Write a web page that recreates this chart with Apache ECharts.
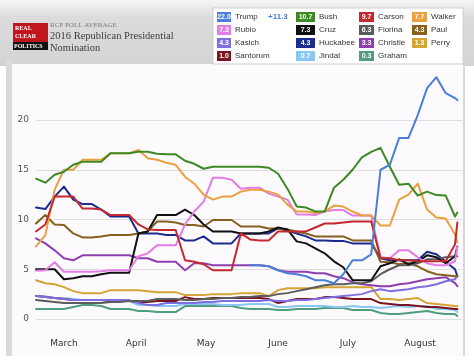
<!DOCTYPE html>
<html><head><meta charset="utf-8">
<script src="https://cdn.jsdelivr.net/npm/echarts/dist/echarts.min.js"></script>
<style>html,body{margin:0;padding:0;background:#fff}#c{width:474px;height:361px}</style>
</head><body><div id="c"></div>
<script>
// ---- data ----
var candidates = ['Trump','Bush','Carson','Walker','Rubio','Cruz','Fiorina','Paul','Kasich','Huckabee','Christie','Perry','Santorum','Jindal','Graham'];
var latest = ['22.0','10.7','9.7','7.7','7.3','7.3','6.3','4.3','4.3','4.3','3.3','1.3','1.0','0.7','0.3'];
var trumpLead = '+11.3';
var colors = ['#4a7ed8','#3d8a24','#c4292f','#eaa03e','#e37ce6','#111111','#5c5c5c','#86601e','#7d6fe2','#1c2c8e','#8e3fae','#d4a534','#7a1420','#8cc6f2','#4f9e80'];
var monthNames = ['March','April','May','June','July','August'];
var yTicks = [0,5,10,15,20];

// values sampled every 4 days from 2015-03-03, last value 2015-08-31
var trump    = [null,null,null,null,null,null,null,null,null,null,null,null,null,null,null,null,null,null,null,null,null,null,null,5.4,5.4,5.3,4.9,4.6,4.5,4.3,3.9,3.9,3.6,4.5,5.9,5.9,6.5,15.0,15.5,18.2,18.2,20.5,23.2,24.3,22.7,22.2,22.0];
var bush     = [14.1,13.7,14.5,14.8,15.5,15.8,15.8,15.8,16.65,16.65,16.65,16.8,16.8,16.6,16.55,16.55,15.9,15.6,15.1,15.3,15.3,15.3,15.3,15.3,15.3,15.2,14.6,13.1,11.3,11.2,10.8,10.8,13.2,14.0,15.0,16.25,16.8,17.2,15.3,13.5,13.6,12.4,12.8,12.45,12.4,10.3,10.7];
var carson   = [8.8,9.5,12.3,12.3,12.3,11.1,11.1,11.0,10.45,10.45,10.45,9.5,9.0,8.95,8.95,8.95,5.9,5.75,5.5,4.9,4.9,4.9,8.6,8.0,7.9,7.9,8.8,8.8,8.8,8.8,9.2,9.6,9.6,9.7,9.8,9.8,9.8,6.1,6.1,5.9,5.9,5.8,5.8,5.8,5.8,7.5,9.7];
var walker   = [7.3,8.4,13.0,15.0,15.0,16.0,16.0,16.0,16.65,16.65,16.65,17.0,16.15,16.0,15.7,15.5,14.3,13.6,12.5,12.0,12.3,12.3,12.8,13.0,13.0,12.8,12.5,11.5,10.8,10.8,10.65,10.8,11.4,11.3,10.8,10.4,10.4,9.4,9.4,12.0,12.5,13.6,11.0,10.2,10.1,8.5,7.7];
var rubio    = [4.85,4.9,5.7,4.75,4.75,4.75,4.75,4.8,4.9,4.9,4.9,6.3,6.6,7.4,7.4,7.4,9.5,10.8,11.8,14.2,14.2,14.0,13.1,13.2,13.2,12.6,12.3,12.0,10.5,10.5,10.45,10.8,10.95,10.95,10.4,10.4,10.4,6.2,6.1,6.9,6.9,6.2,5.6,5.4,5.4,5.8,7.3];
var cruz     = [5.0,5.0,5.0,4.0,4.1,4.3,4.3,4.5,4.65,4.65,4.65,8.6,8.8,10.45,10.45,10.45,11.0,10.45,9.5,8.8,8.8,8.8,8.6,8.6,8.6,8.8,9.2,9.0,7.8,7.6,7.1,6.6,5.8,5.2,3.9,3.9,3.9,5.3,5.6,6.0,5.5,5.8,6.4,6.2,5.6,6.3,7.3];
var fiorina  = [1.9,1.8,1.7,1.6,1.6,1.6,1.6,1.6,1.7,1.7,1.8,1.8,1.8,2.0,2.0,2.0,1.9,1.9,2.0,2.0,2.1,2.1,2.2,2.2,2.3,2.3,2.5,2.6,2.8,3.0,3.2,3.4,3.5,3.5,3.6,3.6,3.8,4.5,5.0,5.4,5.4,5.6,6.0,6.0,6.2,6.3,6.3];
var paul     = [9.6,10.45,9.5,9.45,8.6,8.2,8.2,8.3,8.45,8.45,8.45,8.6,8.8,9.8,9.8,9.7,9.45,9.45,9.3,9.95,9.95,9.95,9.3,9.3,9.3,9.1,9.1,9.0,8.8,8.6,8.3,8.3,8.3,8.3,7.9,7.9,7.9,5.75,5.7,5.5,5.6,5.3,4.8,4.5,4.4,4.3,4.3];
var kasich   = [2.3,2.2,2.1,2.0,1.9,1.9,1.9,1.9,1.9,1.9,1.9,1.6,1.4,1.4,1.6,1.6,1.6,1.6,1.7,1.7,1.8,1.8,1.8,1.8,1.8,1.9,1.8,1.8,1.9,1.9,2.0,2.1,2.2,2.3,2.4,2.5,2.8,3.0,2.8,2.9,3.0,3.2,3.3,3.5,3.8,4.0,4.3];
var huckabee = [11.2,11.05,12.3,13.3,12.0,11.55,11.55,11.0,10.3,10.3,10.3,8.6,8.6,8.6,8.45,8.45,7.9,7.9,8.3,7.6,7.6,7.6,8.6,8.6,8.6,8.6,9.1,8.9,8.6,8.3,7.9,7.9,7.85,7.85,7.6,7.6,7.6,6.1,5.9,5.9,5.9,5.9,6.75,6.5,5.75,5.0,4.3];
var christie = [8.1,7.6,6.9,6.1,5.9,6.4,6.4,6.4,6.4,6.4,6.4,6.1,6.1,5.75,5.75,5.75,4.9,5.6,5.6,5.4,5.4,5.4,5.4,5.4,5.4,5.3,4.9,4.75,4.75,4.75,4.6,4.6,4.3,4.1,3.7,3.5,3.4,3.3,3.3,3.5,3.6,3.8,4.0,4.1,4.2,3.6,3.3];
var perry    = [3.9,3.6,3.5,3.2,2.8,2.6,2.6,2.6,2.9,2.9,2.9,2.9,2.8,2.7,2.7,2.7,2.4,2.4,2.4,2.5,2.5,2.5,2.6,2.6,2.6,2.3,2.9,3.1,3.1,3.1,3.1,3.2,3.2,3.2,3.2,3.2,3.2,2.0,2.0,1.9,2.0,2.1,1.6,1.5,1.4,1.3,1.3];
var santorum = [2.3,2.2,2.1,2.0,1.9,1.9,1.9,1.9,1.8,1.8,1.8,1.7,1.7,1.8,1.8,1.8,2.2,2.0,2.0,2.1,2.1,2.1,2.1,2.1,2.1,2.0,1.6,1.8,2.0,2.0,2.0,2.2,2.2,2.1,2.0,2.0,2.0,1.6,1.5,1.4,1.4,1.3,1.2,1.2,1.1,1.0,1.0];
var jindal   = [2.3,2.3,2.1,2.1,2.0,1.9,1.9,1.9,1.8,1.8,1.8,1.4,1.4,1.3,1.3,1.3,1.5,1.5,1.5,1.5,1.4,1.4,1.4,1.5,1.5,1.5,1.2,1.2,1.3,1.3,1.3,1.3,1.2,1.2,1.3,1.2,1.2,1.1,1.2,1.3,1.2,1.3,1.3,1.0,1.0,0.9,0.7];
var graham   = [1.0,1.0,1.0,1.0,1.2,1.4,1.4,1.3,1.0,1.0,1.0,0.8,0.8,0.7,0.7,0.7,1.3,1.3,1.3,1.3,1.3,1.3,1.1,1.0,1.0,1.0,0.9,0.9,1.0,1.0,1.0,1.1,1.1,1.1,0.9,0.9,0.9,0.6,0.5,0.5,0.6,0.7,0.8,0.6,0.5,0.5,0.3];
var seriesValues = [trump,bush,carson,walker,rubio,cruz,fiorina,paul,kasich,huckabee,christie,perry,santorum,jindal,graham];

// ---- categories (daily) ----
function fmt(d){var m=d.getUTCMonth()+1,dd=d.getUTCDate();return d.getUTCFullYear()+'-'+(m<10?'0':'')+m+'-'+(dd<10?'0':'')+dd;}
var days = [];
var start = Date.UTC(2015,2,3);
for (var i=0;i<184;i++){ days.push(fmt(new Date(start + i*86400000))); }
var sampleDates = [];
for (var k=0;k<46;k++){ sampleDates.push(days[k*4]); }
sampleDates.push('2015-08-31');

var series = [];
for (var s=seriesValues.length-1;s>=0;s--){
  var pts=[];
  seriesValues[s].forEach(function(v,j){ if(v!==null) pts.push([sampleDates[j], v]); });
  series.push({type:'line', name:candidates[s], data:pts, symbol:'none', smooth:false,
    lineStyle:{width:2, color:colors[s], join:'round', cap:'round'}, itemStyle:{color:colors[s]}, animation:false});
}

// ---- legend / header graphics ----
var g = [];
g.push({type:'rect', z:-100, shape:{x:0,y:0,width:474,height:361}, style:{fill:'#ffffff'}});
g.push({type:'rect', z:-99, shape:{x:0,y:0,width:474,height:66}, style:{fill:{type:'linear',x:0,y:0,x2:0,y2:1,colorStops:[{offset:0,color:'#f6f6f6'},{offset:0.25,color:'#dcdcdc'},{offset:1,color:'#d4d4d4'}]}}});
g.push({type:'rect', z:-99, shape:{x:6,y:60,width:7,height:296}, style:{fill:'#dadada'}});
g.push({type:'rect', z:-98, shape:{x:12,y:64,width:451,height:292}, style:{fill:'#fcfafc'}});
g.push({type:'rect', z:-98, shape:{x:463,y:58,width:2,height:298}, style:{fill:'#d8d8d8'}});
// logo
g.push({type:'rect', z:10, shape:{x:13,y:23,width:35,height:19}, style:{fill:'#c0161d'}});
g.push({type:'rect', z:10, shape:{x:13,y:42,width:35,height:8}, style:{fill:'#111'}});
g.push({type:'text', z:11, style:{x:15,y:25,text:'REAL',fill:'#fff',font:'bold 6px "Liberation Serif"'}});
g.push({type:'text', z:11, style:{x:15,y:33,text:'CLEAR',fill:'#fff',font:'bold 6px "Liberation Serif"'}});
g.push({type:'text', z:11, style:{x:14,y:43,text:'POLITICS',fill:'#fff',font:'bold 6px "Liberation Serif"'}});
// titles
g.push({type:'text', z:11, style:{x:50,y:22,text:'RCP POLL AVERAGE',fill:'#7a7a7a',font:'7px "Liberation Serif"'}});
g.push({type:'text', z:11, style:{x:50,y:31,text:'2016 Republican Presidential',fill:'#3c3c3c',font:'10.5px "Liberation Serif"'}});
g.push({type:'text', z:11, style:{x:50,y:43,text:'Nomination',fill:'#3c3c3c',font:'10.5px "Liberation Serif"'}});
// legend box
g.push({type:'rect', z:5, shape:{x:213,y:8,width:250,height:56}, style:{fill:'#ffffff',stroke:'#cfcfcf',lineWidth:1}});
var colX = [217,296,359,412];
var badgeW = [14,19,15,15];
var rowY = [12,25,38,51];
candidates.forEach(function(name,i){
  var c=i%4, r=Math.floor(i/4);
  var x=colX[c], y=rowY[r];
  g.push({type:'rect', z:12, shape:{x:x,y:y,width:badgeW[c],height:10}, style:{fill:colors[i]}});
  g.push({type:'text', z:13, style:{x:x+badgeW[c]/2,y:y+5,text:latest[i],fill:'#fff',font:'bold 7px "Liberation Sans"',align:'center',verticalAlign:'middle'}});
  g.push({type:'text', z:13, style:{x:x+badgeW[c]+4,y:y+5,text:name,fill:'#333',font:'8px "Liberation Sans"',verticalAlign:'middle'}});
  if(i===0){
    g.push({type:'text', z:13, style:{x:268,y:y+5,text:trumpLead,fill:'#4a7ed8',font:'bold 8px "Liberation Sans"',verticalAlign:'middle'}});
  }
});

var chart = echarts.init(document.getElementById('c'), null, {renderer:'canvas'});
chart.setOption({
  animation:false,
  backgroundColor:'#ffffff',
  graphic: g,
  grid:{left:36, right:12, top:70.25, bottom:42, containLabel:false},
  xAxis:{type:'category', data:days, boundaryGap:false,
    axisLine:{show:false}, axisTick:{show:false}, splitLine:{show:false},
    axisLabel:{interval:function(idx,val){return val.slice(8)==='15';}, margin:20, color:'#333', fontSize:9, fontFamily:'DejaVu Sans',
      formatter:function(val){return monthNames[parseInt(val.slice(5,7),10)-3];}}},
  yAxis:{type:'value', min:0, max:25, interval:5,
    axisLine:{show:false}, axisTick:{show:false},
    splitLine:{lineStyle:{color:['#dedede','#dedede','#dedede','#dedede','#dedede','rgba(0,0,0,0)'], width:1}},
    axisLabel:{margin:7, color:'#555', fontSize:9, fontFamily:'DejaVu Sans', formatter:function(v){return yTicks.indexOf(v)>=0?String(v):'';}}},
  series: series
});
</script></body></html>
